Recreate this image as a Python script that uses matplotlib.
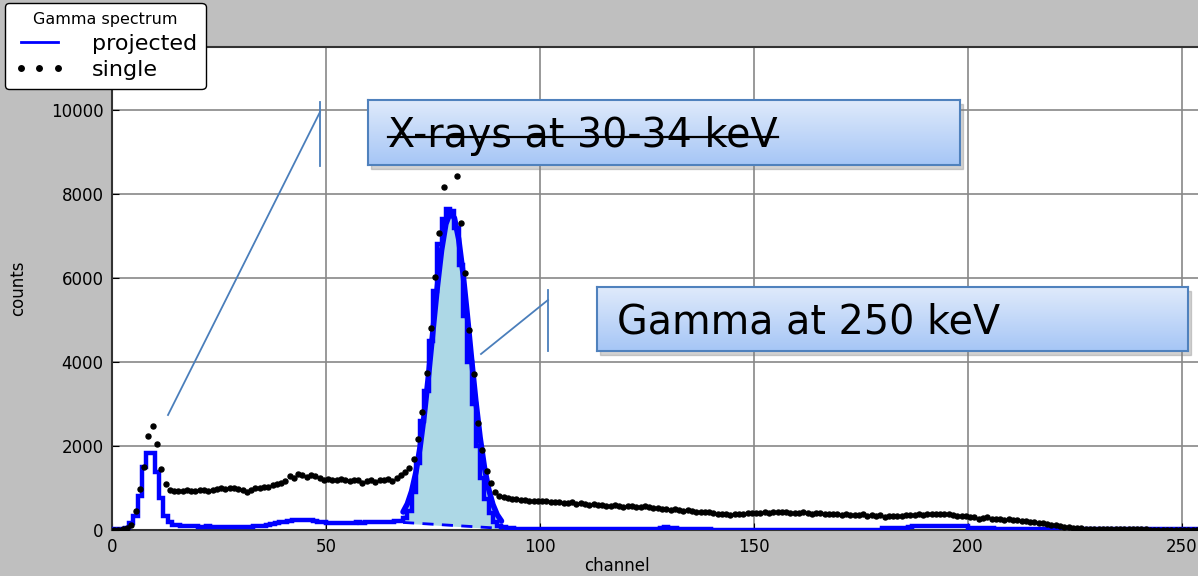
import numpy as np
import matplotlib
matplotlib.use("Agg")
from matplotlib import pyplot as plt
from matplotlib.patches import Rectangle
from matplotlib.lines import Line2D

# single-detector spectrum, counts per channel (0..255)
single = [
    10, 10, 20, 40, 120, 460, 975, 1500, 2240, 2480, 2050, 1450, 1100, 950, 940, 930,
    930, 945, 935, 940, 960, 950, 930, 960, 975, 990, 985, 990, 1000, 980, 960, 910,
    960, 1010, 1000, 1030, 1020, 1060, 1090, 1110, 1160, 1290, 1250, 1330, 1320, 1270, 1300, 1290,
    1230, 1200, 1210, 1190, 1180, 1210, 1200, 1160, 1190, 1200, 1120, 1170, 1180, 1150, 1190, 1200,
    1210, 1170, 1240, 1310, 1390, 1470, 1700, 2160, 2820, 3750, 4800, 6030, 7080, 8170, 8850, 8900,
    8430, 7310, 6120, 4760, 3710, 2550, 1900, 1410, 1110, 910, 820, 790, 770, 750, 740, 720,
    710, 700, 690, 680, 690, 680, 670, 660, 670, 650, 640, 660, 630, 640, 620, 600,
    610, 590, 600, 580, 570, 590, 560, 550, 570, 560, 540, 550, 560, 540, 520, 530,
    510, 490, 480, 490, 470, 460, 470, 450, 440, 430, 440, 420, 400, 390, 380, 370,
    360, 380, 370, 390, 400, 410, 415, 405, 420, 410, 420, 430, 440, 420, 410, 400,
    410, 420, 400, 390, 400, 410, 390, 380, 370, 380, 360, 370, 350, 360, 350, 370,
    340, 360, 330, 350, 320, 340, 330, 340, 335, 350, 360, 350, 370, 360, 375, 370,
    385, 380, 390, 375, 360, 340, 330, 340, 320, 300, 270, 290, 300, 270, 260, 270,
    250, 255, 240, 230, 220, 210, 200, 180, 170, 160, 140, 120, 110, 90, 80, 65,
    55, 45, 40, 35, 30, 25, 20, 18, 16, 15, 15, 14, 14, 13, 13, 12,
    12, 12, 11, 11, 11, 10, 10, 10, 10, 10, 10, 10, 10, 10, 10, 10,
]

# projected spectrum, counts per channel (0..255)
projected = [
    20, 20, 20, 40, 160, 340, 800, 1500, 1830, 1830, 1380, 760, 330, 190, 130, 110,
    100, 95, 90, 90, 80, 80, 85, 80, 75, 80, 80, 80, 75, 80, 80, 80,
    80, 85, 85, 100, 120, 140, 160, 180, 200, 220, 240, 250, 240, 235, 230, 220,
    200, 180, 160, 170, 165, 160, 170, 175, 170, 180, 175, 185, 180, 190, 185, 195,
    200, 195, 205, 215, 280, 450, 900, 1600, 2600, 3300, 4500, 5700, 6800, 7400, 7650, 7600,
    7200, 6300, 5100, 4000, 3000, 2000, 1250, 750, 400, 180, 90, 60, 45, 40, 35, 30,
    30, 30, 25, 25, 25, 25, 25, 20, 20, 20, 20, 20, 20, 20, 20, 20,
    20, 20, 20, 20, 20, 20, 20, 20, 20, 20, 20, 20, 20, 20, 20, 20,
    50, 60, 55, 50, 35, 35, 35, 35, 35, 35, 35, 35, 10, 10, 10, 10,
    10, 10, 10, 10, 10, 10, 10, 10, 10, 10, 10, 10, 10, 10, 10, 10,
    10, 10, 10, 10, 10, 10, 10, 10, 10, 10, 10, 10, 10, 10, 10, 10,
    10, 10, 10, 10, 40, 40, 40, 40, 40, 40, 80, 85, 90, 95, 90, 85,
    90, 95, 90, 85, 90, 95, 90, 85, 40, 40, 40, 40, 40, 40, 15, 15,
    15, 15, 15, 15, 15, 15, 15, 15, 15, 15, 15, 15, 15, 15, 15, 15,
    15, 15, 15, 15, 15, 15, 15, 15, 15, 15, 15, 15, 15, 15, 15, 15,
    15, 15, 15, 15, 15, 15, 15, 15, 15, 15, 15, 15, 15, 15, 15, 15,
]

# gaussian fit of the 250 keV peak, with its linear background
fit_ch = [68, 69, 70, 71, 72, 73, 74, 75, 76, 77, 78, 79, 80,
          81, 82, 83, 84, 85, 86, 87, 88, 89, 90, 91]
fit_counts = [430, 621, 923, 1371, 1990, 2784, 3729, 4760, 5778, 6661, 7284, 7555, 7429,
              6926, 6122, 5130, 4078, 3076, 2204, 1502, 976, 607, 364, 213]
bg_ch = [68, 91]
bg_counts = [180, 40]

xticks = [0, 50, 100, 150, 200, 250]
yticks = [0, 2000, 4000, 6000, 8000, 10000]

W, H = 1198, 576
AX_R = 1207.7
fig = plt.figure(figsize=(W / 100, H / 100), dpi=100, facecolor="#bfbfbf")


def fx(px):
    return px / W


def fy(py):
    return 1 - py / H


ax = fig.add_axes([fx(112), fy(530), (AX_R - 112) / W, (530 - 47) / H])
ax.set_facecolor("white")

ch = np.arange(len(projected))
edges = np.arange(len(projected) + 1)
ax.stairs(projected, edges, color="blue", lw=3.2, zorder=3)

# background under the peak and the fitted area
bg_interp = np.interp(fit_ch, bg_ch, bg_counts)
ax.fill_between(fit_ch, bg_interp, fit_counts, color="lightblue", zorder=2)
ax.plot(bg_ch, bg_counts, color="blue", lw=2, ls=(0, (4, 3)), zorder=3)
ax.plot(fit_ch, fit_counts, color="blue", lw=4, zorder=4, solid_capstyle="round")

single_line, = ax.plot(ch + 0.5, single, ls="none", marker="o", ms=3.6,
                       color="black", zorder=5)

ax.set_xlim(0, 256)
ax.set_ylim(0, 11500)
ax.set_xticks(xticks)
ax.set_yticks(yticks)
ax.grid(True, color="#888888", lw=1.2)
ax.set_axisbelow(True)
ax.tick_params(direction="in", labelsize=12, length=5, colors="black", pad=6)
for s in ax.spines.values():
    s.set_color("#333333")
    s.set_linewidth(1.5)

ax.set_xlabel("channel", fontsize=12)
ax.xaxis.set_label_coords((617 - 112) / (AX_R - 112), -0.055)
ax.set_ylabel("counts", fontsize=12)
ax.yaxis.set_label_coords(-(112 - 27) / (AX_R - 112), 0.5)

leg = fig.legend([Line2D([], [], color="blue", lw=2), single_line],
                 ["projected", "single"],
                 title="Gamma spectrum", loc="upper left",
                 bbox_to_anchor=(fx(5), fy(3)), borderaxespad=0,
                 fontsize=16, title_fontsize=11.5,
                 numpoints=3, markerscale=1.1, fancybox=True, framealpha=1,
                 edgecolor="black", borderpad=0.4, labelspacing=0.3,
                 handlelength=2.3, handletextpad=1.2)
leg.get_frame().set_linewidth(1.0)

# callout boxes
grad = np.linspace(0, 1, 64).reshape(-1, 1)
cmap = matplotlib.colors.LinearSegmentedColormap.from_list("box", ["#dfeafb", "#a6c6f6"])


def callout(x0, y0, x1, y1, text, strike=False):
    shadow = Rectangle((fx(x0 + 3), fy(y1 + 4)), fx(x1 - x0), (y1 - y0) / H,
                       transform=fig.transFigure, color="#7f7f7f", alpha=0.35,
                       zorder=8)
    fig.add_artist(shadow)
    bx = fig.add_axes([fx(x0), fy(y1), fx(x1 - x0), (y1 - y0) / H], zorder=9)
    bx.imshow(grad, cmap=cmap, aspect="auto", extent=(0, 1, 0, 1))
    bx.set_xlim(0, 1)
    bx.set_ylim(0, 1)
    bx.set_xticks([])
    bx.set_yticks([])
    for s in bx.spines.values():
        s.set_color("#4f81bd")
        s.set_linewidth(1.5)
    t = bx.text(20 / (x1 - x0), 0.45, text, fontsize=28.5, family="DejaVu Sans",
                va="center", ha="left", color="black")
    if strike:
        fig.canvas.draw()
        bb = t.get_window_extent()
        ym = (bb.y0 + bb.y1) / 2 - 1
        fig.add_artist(Line2D([bb.x0 / W, bb.x1 / W], [ym / H, ym / H],
                              color="black", lw=1.6, zorder=10))


leader = "#4a7ebb"
fig.add_artist(Line2D([fx(168), fx(320)], [fy(415), fy(112)], color=leader, lw=1.3, zorder=7))
fig.add_artist(Line2D([fx(320), fx(320)], [fy(102), fy(166)], color=leader, lw=1.3, zorder=7))
fig.add_artist(Line2D([fx(481), fx(548)], [fy(354), fy(300)], color=leader, lw=1.3, zorder=7))
fig.add_artist(Line2D([fx(548), fx(548)], [fy(290), fy(351)], color=leader, lw=1.3, zorder=7))

callout(368, 100, 960, 165, "X-rays at 30-34 keV", strike=True)
callout(597, 287, 1188, 351, "Gamma at 250 keV")

fig.savefig("out.png", dpi=100, facecolor=fig.get_facecolor())
